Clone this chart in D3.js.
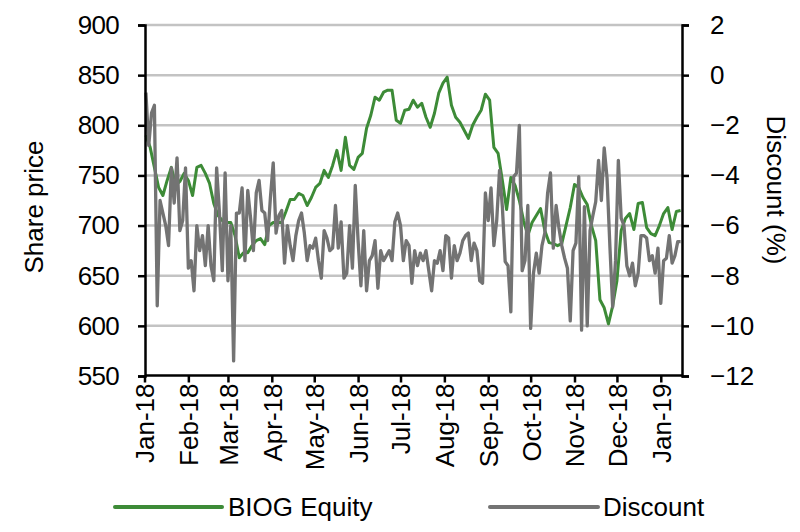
<!DOCTYPE html>
<html><head><meta charset="utf-8">
<script src="https://cdn.jsdelivr.net/npm/d3@7"></script>
<style>body{margin:0;background:#fff;} text{font-family:"Liberation Sans",Arial,sans-serif;fill:#000;}</style>
</head><body>
<svg id="c" width="800" height="532"></svg>
<script>
// ---- data ----
const startDate = new Date(2018, 0, 2);
const priceStepDays = 3;
const discountStepDays = 2;
const monthLabels = ["Jan-18","Feb-18","Mar-18","Apr-18","May-18","Jun-18","Jul-18","Aug-18","Sep-18","Oct-18","Nov-18","Dec-18","Jan-19"];
const leftTicks = [550,600,650,700,750,800,850,900];
const rightTicks = [-12,-10,-8,-6,-4,-2,0,2];
const price = [790,778,758,738,730,745,758,740,744,752,745,730,758,760,752,742,722,710,705,703,
703,690,668,673,673,680,685,687,681,700,703,703,703,714,726,726,732,730,720,728,
738,742,755,748,760,775,755,788,760,756,768,772,797,810,828,825,833,835,835,805,
802,815,816,825,818,822,808,798,812,832,842,848,820,808,803,795,787,800,808,815,
831,825,778,772,745,716,748,740,725,705,690,703,710,717,695,683,682,680,682,700,
718,741,738,728,721,700,685,626,618,602,620,645,695,707,712,696,722,723,698,692,
690,700,712,718,696,714,715];
const discount = [-0.7,-2.8,-1.5,-1.2,-9.2,-5.0,-5.5,-6.0,-6.8,-3.7,
-5.1,-3.3,-6.2,-5.8,-3.7,-7.7,-7.4,-8.6,-6.0,-7.0,
-6.4,-7.6,-6.0,-7.6,-8.2,-3.7,-5.5,-7.8,-3.9,-8.2,
-6.0,-11.4,-5.5,-5.5,-4.5,-7.4,-4.6,-5.7,-7.0,-4.7,
-4.2,-5.4,-5.5,-6.6,-4.9,-3.5,-6.3,-5.6,-5.4,-7.5,
-6.0,-6.8,-7.4,-6.4,-5.8,-5.5,-6.3,-7.4,-6.8,-6.9,
-6.5,-7.4,-8.1,-6.2,-6.5,-7.0,-6.9,-5.2,-6.9,-5.85,
-8.1,-7.9,-6.0,-7.7,-4.4,-6.6,-8.4,-6.2,-8.6,-7.4,
-7.2,-6.6,-8.5,-7.0,-7.4,-7.2,-7.0,-7.4,-5.85,-5.5,
-6.0,-7.4,-6.6,-6.8,-8.3,-7.0,-7.6,-7.1,-7.4,-7.0,
-7.8,-8.6,-7.4,-7.5,-7.0,-7.8,-6.4,-6.5,-8.1,-6.8,
-7.4,-7.1,-6.6,-6.4,-6.3,-7.4,-6.7,-7.0,-8.2,-8.3,
-4.7,-5.8,-4.5,-6.8,-5.8,-3.8,-5.25,-7.44,-7.6,-9.44,
-4.05,-3.9,-2.0,-7.8,-7.4,-5.2,-10.1,-7.9,-7.1,-7.9,
-6.8,-6.3,-4.7,-3.9,-6.9,-5.2,-6.1,-6.8,-7.3,-7.7,
-9.8,-7.0,-6.7,-4.05,-10.17,-5.25,-10.0,-6.2,-5.6,-5.05,
-3.4,-5.0,-2.9,-4.1,-6.8,-9.24,-7.4,-3.4,-5.7,-6.0,
-7.6,-8.0,-7.5,-8.4,-7.9,-6.4,-6.4,-6.5,-7.4,-7.2,
-7.9,-6.9,-9.1,-7.4,-7.3,-6.4,-7.5,-7.2,-6.64,-6.64];
const seriesNames = ["BIOG Equity","Discount"];
const colors = ["#3d8b37","#737373"];

// ---- build ----
const priceDates = price.map((_, i) => d3.timeDay.offset(startDate, i * priceStepDays));
const discountDates = discount.map((_, i) => d3.timeDay.offset(startDate, i * discountStepDays));
const svg = d3.select("#c");
const L = 145, R = 682, T = 25, B = 376;
const x = d3.scaleTime().domain([new Date(2018,0,1), new Date(2019,0,16)]).range([144.5, R]);
const yL = d3.scaleLinear().domain([550, 900]).range([B, T]);
const yR = d3.scaleLinear().domain([-12, 2]).range([B, T]);
const monthDates = monthLabels.map((_, i) => new Date(2018, i, 1));

// gridlines
svg.append("g").selectAll("line").data(leftTicks.filter(v => v > 550)).join("line")
  .attr("x1", L).attr("x2", R).attr("y1", d => yL(d)).attr("y2", d => yL(d))
  .attr("stroke", "#c3c3c3").attr("stroke-width", 2.5);

// lines
const lineP = d3.line().x((d, i) => x(priceDates[i])).y(d => yL(d));
const lineD = d3.line().x((d, i) => x(discountDates[i])).y(d => yR(d));
svg.append("path").datum(price).attr("d", lineP).attr("fill", "none")
  .attr("stroke", colors[0]).attr("stroke-width", 3).attr("stroke-linejoin", "round");
svg.append("path").datum(discount).attr("d", lineD).attr("fill", "none")
  .attr("stroke", colors[1]).attr("stroke-width", 3.3).attr("stroke-linejoin", "round");

// axes
const gl = svg.append("g").attr("transform", `translate(${L},0)`)
  .call(d3.axisLeft(yL).tickValues(leftTicks).tickSize(7).tickPadding(19));
const gr = svg.append("g").attr("transform", `translate(${R},0)`)
  .call(d3.axisRight(yR).tickValues(rightTicks).tickSize(7).tickPadding(21));
const gb = svg.append("g").attr("transform", `translate(0,${B - 0.5})`)
  .call(d3.axisBottom(x).tickValues(monthDates).tickFormat((d, i) => monthLabels[i]).tickSize(7).tickSizeOuter(0));
[gl, gr, gb].forEach(g => {
  g.select(".domain").attr("stroke", "#000").attr("stroke-width", 2.5);
  g.selectAll(".tick line").attr("stroke", "#000").attr("stroke-width", 2.5);
  g.selectAll(".tick text").attr("font-size", 26).attr("font-family", "Liberation Sans, Arial, sans-serif").attr("fill", "#000");
});
gl.selectAll(".tick text").attr("letter-spacing", -0.7);
gb.select(".domain").attr("d", `M${L},0H${R}`);
gb.selectAll(".tick text").attr("transform", "rotate(-90)").attr("text-anchor", "end")
  .attr("x", -8).attr("y", 0).attr("dy", "0.36em");

// axis titles
svg.append("text").attr("transform", "translate(43,207) rotate(-90)").attr("text-anchor", "middle")
  .attr("font-size", 26).text("Share price");
svg.append("text").attr("transform", "translate(767,190) rotate(90)").attr("text-anchor", "middle")
  .attr("font-size", 26).text("Discount (%)");

// legend
const leg = [{x1: 115, x2: 222, tx: 228}, {x1: 490, x2: 598, tx: 603}];
leg.forEach((p, i) => {
  svg.append("line").attr("x1", p.x1).attr("x2", p.x2).attr("y1", 507).attr("y2", 507)
    .attr("stroke", colors[i]).attr("stroke-width", 4).attr("stroke-linecap", "round");
  svg.append("text").attr("x", p.tx).attr("y", 507).attr("dy", "0.36em").attr("font-size", 26).text(seriesNames[i]);
});
</script>
</body></html>
